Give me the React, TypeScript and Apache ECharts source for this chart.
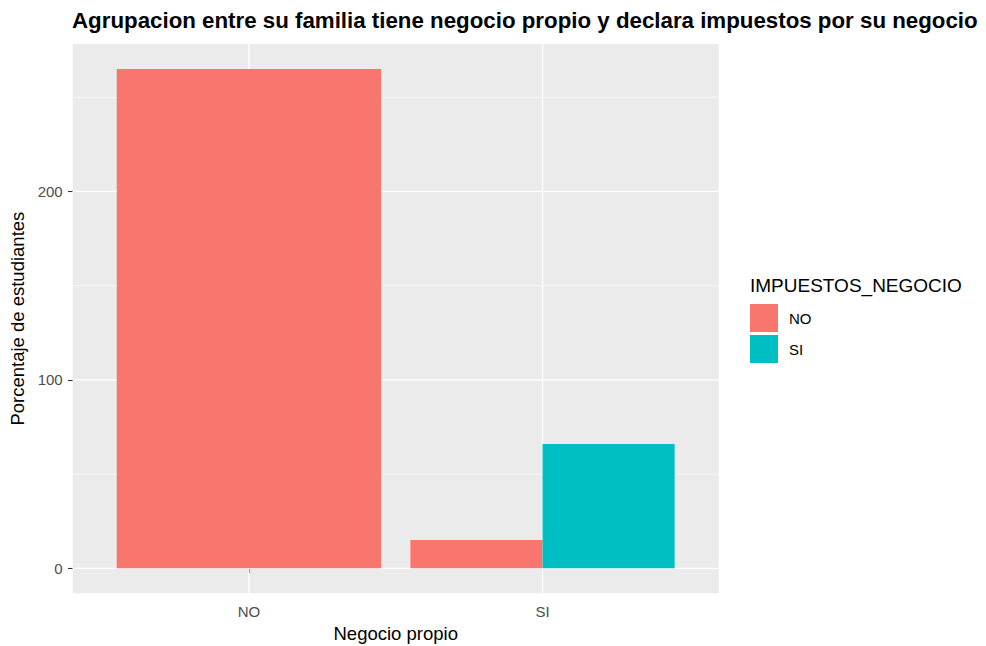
import React, { useEffect, useRef } from "react";
import * as echarts from "echarts";

const categories = ["NO", "SI"];
const groups = ["NO", "SI"];
const noValues: (number | null)[] = [265, 15];
const siValues: (number | null)[] = [null, 66];
const yMajor = [0, 100, 200];
const yMinor = [50, 150, 250];

const FONT = "'Liberation Sans', Arial, sans-serif";
const COLORS = ["#F8766D", "#00BFC4"];

const groupValues = [noValues, siValues];
const yMaxData = Math.max(...groupValues.flat().filter((v): v is number => v != null));
const yMin = -0.05 * yMaxData;
const yMax = 1.05 * yMaxData;
const xMin = 0.4;
const xMax = categories.length + 0.6;
const xBreaks = categories.map((_, i) => i + 1);

function barData(gi: number) {
  const out: number[][] = [];
  categories.forEach((_, ci) => {
    const present = groupValues.map((vals) => vals[ci]).map((v, k) => (v != null ? k : -1)).filter((k) => k >= 0);
    const v = groupValues[gi][ci];
    if (v == null) return;
    out.push([ci + 1, v, present.indexOf(gi), present.length]);
  });
  return out;
}

export default function App() {
  const ref = useRef<HTMLDivElement>(null);
  useEffect(() => {
    if (!ref.current) return;
    const chart = echarts.init(ref.current, undefined, { renderer: "svg" });

    const barSeries = groups.map((g, gi) => ({
      name: g,
      type: "custom",
      z: 5,
      itemStyle: { color: COLORS[gi] },
      encode: { x: 0, y: 1 },
      data: barData(gi),
      renderItem: (params: any, api: any) => {
        const x = api.value(0);
        const v = api.value(1);
        const slot = api.value(2);
        const n = api.value(3);
        const w = 0.9 / n;
        const x0 = x - 0.45 + slot * w;
        const p0 = api.coord([x0, v]);
        const p1 = api.coord([x0 + w, 0]);
        return {
          type: "rect",
          shape: { x: p0[0], y: p0[1], width: p1[0] - p0[0], height: p1[1] - p0[1] },
          style: { fill: COLORS[gi] },
        };
      },
    }));

    const hLineSeries = (vals: number[], width: number, name: string) => ({
      name,
      type: "custom",
      z: 1,
      silent: true,
      data: vals.map((v) => [xMin, v]),
      encode: { x: 0, y: 1 },
      renderItem: (params: any, api: any) => {
        const cs = params.coordSys;
        const y = api.coord([xMin, api.value(1)])[1];
        return {
          type: "line",
          shape: { x1: cs.x, y1: y, x2: cs.x + cs.width, y2: y },
          style: { stroke: "#FFFFFF", lineWidth: width },
        };
      },
    });

    const vLineSeries = {
      name: "vgrid",
      type: "custom",
      z: 1,
      silent: true,
      data: xBreaks.map((x) => [x, 0]),
      encode: { x: 0, y: 1 },
      renderItem: (params: any, api: any) => {
        const cs = params.coordSys;
        const x = api.coord([api.value(0), 0])[0];
        return {
          type: "line",
          shape: { x1: x, y1: cs.y, x2: x, y2: cs.y + cs.height },
          style: { stroke: "#FFFFFF", lineWidth: 1.3 },
        };
      },
    };

    chart.setOption({
      animation: false,
      textStyle: { fontFamily: FONT },
      title: {
        text: "Agrupacion entre su familia tiene negocio propio y declara impuestos por su negocio",
        left: 72,
        top: 9,
        padding: 0,
        textStyle: { fontFamily: FONT, fontSize: 22.3, fontWeight: "bold", color: "#000000" },
      },
      grid: {
        left: 72.7,
        right: 986 - 718.7,
        top: 44,
        bottom: 646 - 593.3,
        show: true,
        backgroundColor: "#EBEBEB",
        borderWidth: 0,
        containLabel: false,
        outerBoundsMode: "none",
      },
      legend: {
        data: groups,
        orient: "vertical",
        left: 750,
        top: 304,
        padding: 0,
        itemWidth: 28,
        itemHeight: 28,
        itemGap: 3,
        icon: "rect",
        textStyle: { fontFamily: FONT, fontSize: 15, color: "#000000", padding: [0, 0, 0, 6] },
      },
      graphic: [
        {
          type: "text",
          left: 750,
          top: 276,
          style: { text: "IMPUESTOS_NEGOCIO", font: `19px ${FONT}`, fill: "#000000" },
        },
      ],
      xAxis: {
        type: "value",
        min: xMin,
        max: xMax,
        name: "Negocio propio",
        nameLocation: "middle",
        nameGap: 31,
        nameTextStyle: { fontFamily: FONT, fontSize: 18.5, color: "#000000" },
        axisLine: { show: false },
        splitLine: { show: false },
        axisTick: { show: true, length: 4.7, customValues: xBreaks, lineStyle: { color: "#333333", width: 1.1 } },
        axisLabel: {
          customValues: xBreaks,
          margin: 11,
          fontFamily: FONT,
          fontSize: 15,
          color: "#4D4D4D",
          formatter: (v: number) => categories[Math.round(v) - 1] ?? "",
        },
      },
      yAxis: {
        type: "value",
        min: yMin,
        max: yMax,
        name: "Porcentaje de estudiantes",
        nameLocation: "middle",
        nameGap: 42,
        nameTextStyle: { fontFamily: FONT, fontSize: 18.5, color: "#000000" },
        axisLine: { show: false },
        splitLine: { show: false },
        axisTick: { show: true, length: 4.7, customValues: yMajor, lineStyle: { color: "#333333", width: 1.1 } },
        axisLabel: {
          customValues: yMajor,
          margin: 10,
          fontFamily: FONT,
          fontSize: 15,
          color: "#4D4D4D",
        },
      },
      series: [hLineSeries(yMinor, 0.6, "minor"), hLineSeries(yMajor, 1.3, "major"), vLineSeries, ...barSeries],
    });
    return () => chart.dispose();
  }, []);

  return <div ref={ref} style={{ width: 986, height: 646, position: "absolute", left: 0, top: 0 }} />;
}
